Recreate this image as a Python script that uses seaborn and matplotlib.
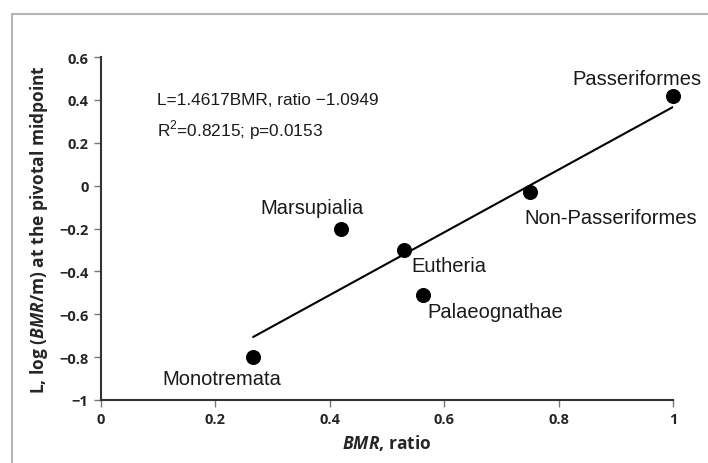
import numpy as np
import pandas as pd
import matplotlib
matplotlib.use("Agg")
import matplotlib.pyplot as plt
from matplotlib.patches import Rectangle
from matplotlib.ticker import FuncFormatter
import seaborn as sns

# data
groups = ["Passeriformes", "Non-Passeriformes", "Marsupialia",
          "Eutheria", "Palaeognathae", "Monotremata"]
bmr_ratio = [1.0, 0.75, 0.42, 0.53, 0.563, 0.266]
log_L = [0.42, -0.03, -0.20, -0.30, -0.51, -0.80]
slope = 1.4617
intercept = -1.0949
eq_text = "L=1.4617BMR, ratio \u22121.0949"
stat_text = "R$^{2}$=0.8215; p=0.0153"
x_ticks = [0, 0.2, 0.4, 0.6, 0.8, 1]
y_ticks = [-1, -0.8, -0.6, -0.4, -0.2, 0, 0.2, 0.4, 0.6]

# label offsets from each point, in pixels (style only)
label_offsets = [(-36, 17), (81, -25), (-29, 21), (45, -16), (72, -17), (-31, -21)]

df = pd.DataFrame({"group": groups, "bmr": bmr_ratio, "L": log_L})
fit_x = np.array([df["bmr"].min(), df["bmr"].max()])
fit = pd.DataFrame({"bmr": fit_x, "L": slope * fit_x + intercept})

sns.set_style("white")
plt.rcParams["font.family"] = ["Liberation Sans", "DejaVu Sans"]
plt.rcParams["mathtext.fontset"] = "custom"
plt.rcParams["mathtext.bfit"] = "Open Sans:italic:bold"
plt.rcParams["mathtext.rm"] = "Liberation Sans"

fig = plt.figure(figsize=(7.08, 4.64), dpi=100)
ax = fig.add_axes([101 / 708, 63 / 464, 572 / 708, 343 / 464])

sns.lineplot(data=fit, x="bmr", y="L", color="black", linewidth=1.5, ax=ax)
sns.scatterplot(data=df, x="bmr", y="L", color="black", s=100,
                edgecolor="black", zorder=3, clip_on=False, ax=ax)

for (_, row), (dx, dy) in zip(df.iterrows(), label_offsets):
    ax.annotate(row["group"], (row["bmr"], row["L"]), xytext=(dx, dy),
                textcoords="offset pixels", ha="center", va="center",
                fontsize=14.5, color="#1a1a1a")

ax.text(0.098, 0.404, eq_text, ha="left", va="center", fontsize=12.4, color="#1a1a1a")
ax.text(0.098, 0.265, stat_text, ha="left", va="center", fontsize=12.4, color="#1a1a1a")

ax.set_xlim(0, 1)
ax.set_ylim(-1, 0.6)
ax.set_xticks(x_ticks)
ax.set_yticks(y_ticks)
fmt = FuncFormatter(lambda v, p: "{:g}".format(round(v, 2)).replace("-", "\u2212"))
ax.xaxis.set_major_formatter(fmt)
ax.yaxis.set_major_formatter(fmt)

tick_font = {"family": ["Open Sans", "DejaVu Sans"], "weight": "bold", "size": 10.5}
for lab in ax.get_xticklabels() + ax.get_yticklabels():
    lab.set_fontproperties(matplotlib.font_manager.FontProperties(**tick_font))
    lab.set_color("#262626")
ax.tick_params(axis="both", direction="out", length=5, width=1, color="#777777",
               left=True, bottom=True, pad=4)

for side in ["top", "right"]:
    ax.spines[side].set_visible(False)
for side in ["left", "bottom"]:
    ax.spines[side].set_color("#333333")
    ax.spines[side].set_linewidth(1.5)

lab_font = {"family": ["Open Sans", "DejaVu Sans"], "weight": "bold", "size": 12.5}
ax.set_xlabel(r"$\mathbfit{BMR}$, ratio", fontdict=lab_font)
ax.set_ylabel(r"L, log ($\mathbfit{BMR}$/m) at the pivotal midpoint", fontdict=lab_font)
ax.yaxis.set_label_coords(-0.09, 0.5)

# light frame around the figure, only top and left edges visible
fig.patches.append(Rectangle((12 / 708, -0.5), 2, 0.5 + 449 / 464, fill=False,
                             edgecolor="#b5b5b5", linewidth=1.5,
                             transform=fig.transFigure, figure=fig))

fig.savefig("out.png", dpi=100)
